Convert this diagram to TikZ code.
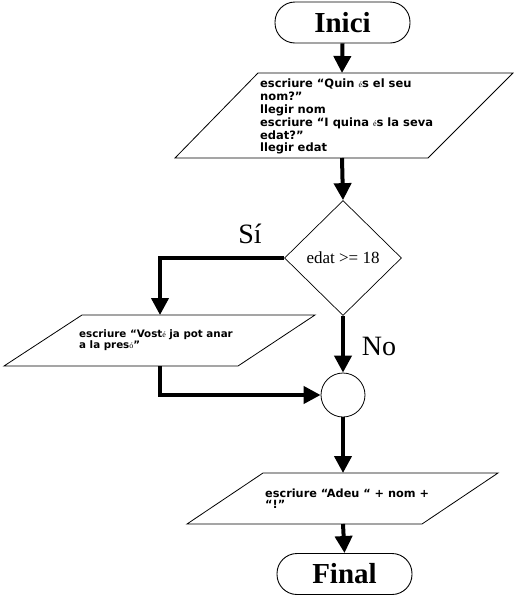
\documentclass[tikz,border=0pt]{standalone}
\usepackage{fontspec}
\setmainfont{Liberation Serif}
\newfontfamily\boxfont{DejaVu Sans}
\usetikzlibrary{arrows.meta,shapes.geometric}
\newcommand{\sme}{{\fontspec{Liberation Serif}\fontsize{8pt}{8pt}\selectfont\mdseries é}}
\newcommand{\smo}{{\fontspec{Liberation Serif}\fontsize{8pt}{8pt}\selectfont\mdseries ó}}
\tikzset{
  terminal/.style={draw,line width=0.9pt,rectangle,rounded corners=20pt,minimum width=135pt,minimum height=41pt,inner sep=0pt,font=\fontsize{29pt}{29pt}\selectfont\bfseries},
  decision/.style={draw,line width=0.7pt,diamond,minimum width=117pt,minimum height=115pt,inner sep=0pt,font=\fontsize{17pt}{17pt}\selectfont},
  joint/.style={draw,line width=0.8pt,circle,minimum size=44pt,inner sep=0pt},
  iobox/.style={draw,line width=0.8pt},
  iotext/.style={anchor=north west,align=left,inner sep=0pt,font=\boxfont\bfseries\fontsize{11.5pt}{12.8pt}\selectfont},
  iotextsmall/.style={iotext,font=\boxfont\bfseries\fontsize{10.3pt}{10.8pt}\selectfont},
  iotextmid/.style={iotext,font=\boxfont\bfseries\fontsize{11.3pt}{11pt}\selectfont},
  conn/.style={line width=4pt,-{Triangle[width=17pt,length=17pt]}},
  lbl/.style={font=\fontsize{28pt}{28pt}\selectfont,inner sep=0pt}
}
\begin{document}
\begin{tikzpicture}[x=1pt,y=-1pt]
\useasboundingbox (0,0) rectangle (518,598);
% terminals
\node[terminal] (inici) at (342.5,22.5) {Inici};
\node[terminal] (final) at (344.5,574) {Final};
% input/output 1
\draw[iobox] (258,73) -- (513,73) -- (428,158) -- (175,158) -- cycle;
\coordinate (p1top) at (342,73);
\coordinate (p1bot) at (342,158);
\node[iotext] (t1) at (260,79) {escriure “Quin \sme s el seu\\nom?”\\llegir nom\\escriure “I quina \sme s la seva\\edat?”\\llegir edat};
% decision
\node[decision] (dec) at (343,258) {edat >= 18};
% input/output 2
\draw[iobox] (82,315) -- (315,315) -- (238,366) -- (4,366) -- cycle;
\coordinate (p2top) at (160,315);
\coordinate (p2bot) at (160,366);
\node[iotextsmall] (t2) at (79,329.5) {escriure “Vost\sme\ ja pot anar\\a la pres\smo”};
% junction
\node[joint] (join) at (343,395) {};
% input/output 3
\draw[iobox] (263,473) -- (498,473) -- (422,524) -- (187,524) -- cycle;
\coordinate (p3top) at (343,473);
\coordinate (p3bot) at (343,524);
\node[iotextmid] (t3) at (265,488.5) {escriure “Adeu “ + nom +\\“!”};
% labels
\node[lbl] (si) at (250,234) {Sí};
\node[lbl] (no) at (379,346) {No};
% connectors
\draw[conn] (inici.south) -- (p1top);
\draw[conn] (p1bot) -- (dec.north);
\draw[conn] (dec.west) -| (p2top);
\draw[conn] (dec.south) -- (join.north);
\draw[conn] (p2bot) |- (join.west);
\draw[conn] (join.south) -- (p3top);
\draw[conn] (p3bot) -- (final.north);
\end{tikzpicture}
\end{document}
